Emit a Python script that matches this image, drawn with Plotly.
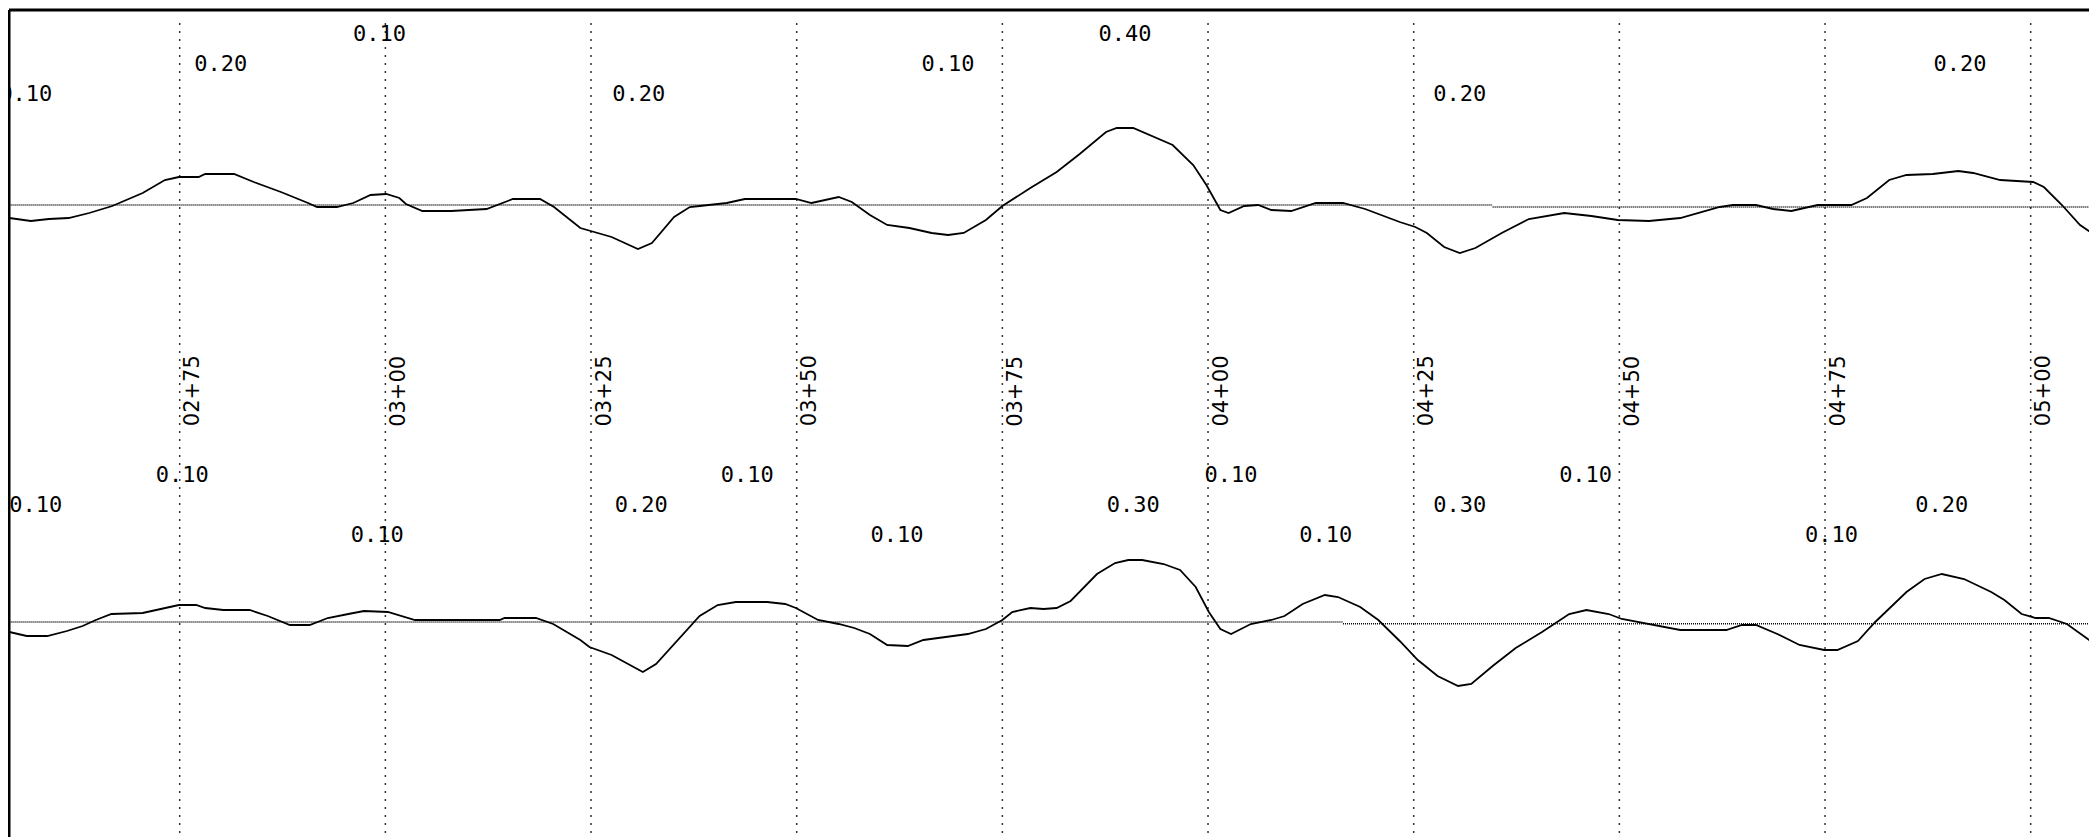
import plotly.graph_objects as go

# ---------------- data ----------------
# Station ticks (ft) and their labels
stations = [275, 300, 325, 350, 375, 400, 425, 450, 475, 500]
station_labels = ["02+75", "03+00", "03+25", "03+50", "03+75",
                  "04+00", "04+25", "04+50", "04+75", "05+00"]

# Profile 1 (top): station (ft) and elevation (in) relative to its reference line
st_top = [254.3, 256.9, 259.1, 261.5, 264.0, 266.8, 270.5, 273.2, 274.9, 277.3,
          278.1, 281.6, 284.0, 287.3, 290.6, 291.7, 294.1, 296.1, 298.2, 300.1,
          301.7, 302.5, 304.5, 308.0, 312.3, 315.5, 318.8, 320.5, 323.7, 325.4,
          327.5, 330.7, 332.4, 335.1, 337.0, 338.2, 341.5, 343.7, 349.9, 351.8,
          355.1, 356.7, 358.9, 361.0, 363.7, 366.4, 368.4, 370.3, 373.0, 375.0,
          378.4, 381.6, 384.4, 387.6, 388.9, 390.9, 395.7, 398.2, 399.8, 401.5,
          402.5, 404.4, 406.1, 407.7, 410.1, 413.1, 416.4, 419.1, 423.3, 425.2,
          426.6, 428.7, 430.6, 432.5, 435.7, 439.0, 443.3, 446.6, 449.8, 453.6,
          457.4, 462.2, 463.8, 466.6, 468.7, 470.9, 474.1, 478.2, 480.1, 482.8,
          484.9, 488.1, 491.2, 493.0, 496.3, 500.3, 501.6, 503.8, 506.0, 508.1]
el_top = [-0.13, -0.16, -0.14, -0.13, -0.08, -0.01, 0.12, 0.25, 0.28, 0.28,
          0.31, 0.31, 0.23, 0.13, 0.02, -0.02, -0.02, 0.02, 0.10, 0.11,
          0.07, 0.01, -0.06, -0.06, -0.04, 0.06, 0.06, -0.02, -0.23, -0.27,
          -0.32, -0.44, -0.38, -0.12, -0.02, -0.01, 0.02, 0.06, 0.06, 0.02,
          0.08, 0.03, -0.10, -0.20, -0.23, -0.28, -0.30, -0.28, -0.15, -0.01,
          0.17, 0.33, 0.51, 0.73, 0.77, 0.77, 0.60, 0.40, 0.20, -0.05,
          -0.08, -0.01, 0.00, -0.05, -0.06, 0.02, 0.02, -0.04, -0.17, -0.22,
          -0.28, -0.42, -0.48, -0.43, -0.28, -0.14, -0.08, -0.11, -0.15, -0.16,
          -0.13, -0.02, 0.00, 0.00, -0.04, -0.06, 0.00, 0.00, 0.07, 0.25,
          0.30, 0.31, 0.34, 0.32, 0.25, 0.23, 0.18, 0.00, -0.20, -0.32]

# Profile 2 (bottom)
st_bot = [254.3, 256.4, 258.9, 261.3, 263.2, 264.8, 266.7, 270.5, 272.7, 274.9,
          277.0, 278.1, 280.3, 283.5, 285.7, 288.4, 290.8, 293.0, 295.5, 297.4,
          300.3, 303.6, 313.9, 314.5, 318.3, 320.4, 323.7, 324.8, 327.5, 331.3,
          332.9, 335.6, 338.2, 340.4, 342.6, 346.4, 348.6, 349.9, 352.6, 355.1,
          357.0, 358.9, 361.0, 363.5, 365.4, 368.1, 370.8, 373.0, 375.0, 376.2,
          378.4, 380.0, 381.6, 383.3, 384.6, 386.5, 388.7, 390.3, 392.0, 394.6,
          396.6, 398.5, 400.1, 401.5, 402.8, 405.2, 407.7, 409.3, 411.5, 414.2,
          415.8, 418.5, 420.7, 423.3, 425.5, 427.9, 430.4, 432.0, 434.6, 437.4,
          440.6, 442.5, 443.9, 446.0, 448.7, 450.3, 453.0, 455.7, 457.4, 463.0,
          464.9, 466.6, 469.2, 471.9, 474.9, 476.5, 479.0, 481.1, 482.8, 484.9,
          487.1, 489.2, 491.9, 495.2, 496.8, 498.9, 500.6, 502.2, 504.4, 508.1]
el_bot = [-0.10, -0.14, -0.14, -0.09, -0.04, 0.02, 0.08, 0.09, 0.13, 0.17,
          0.17, 0.14, 0.12, 0.12, 0.06, -0.03, -0.03, 0.04, 0.08, 0.11,
          0.10, 0.02, 0.02, 0.04, 0.04, -0.02, -0.18, -0.25, -0.33, -0.50,
          -0.42, -0.17, 0.06, 0.17, 0.20, 0.20, 0.18, 0.14, 0.02, -0.02,
          -0.06, -0.12, -0.23, -0.24, -0.18, -0.15, -0.12, -0.07, 0.02, 0.10,
          0.14, 0.13, 0.14, 0.21, 0.32, 0.48, 0.59, 0.62, 0.62, 0.58,
          0.52, 0.35, 0.10, -0.07, -0.12, -0.02, 0.02, 0.06, 0.18, 0.27,
          0.25, 0.15, 0.02, -0.19, -0.38, -0.54, -0.64, -0.62, -0.44, -0.26,
          -0.10, 0.00, 0.08, 0.12, 0.08, 0.03, -0.01, -0.05, -0.08, -0.08,
          -0.03, -0.03, -0.12, -0.23, -0.28, -0.28, -0.19, 0.00, 0.13, 0.30,
          0.43, 0.48, 0.43, 0.30, 0.22, 0.08, 0.04, 0.04, -0.02, -0.24]

# Reference (datum) lines: break stations and levels (in)
ref_top_breaks = [254.2, 434.6, 508.1]
ref_top_levels = [0.0, -0.02]
ref_bot_breaks = [254.2, 416.4, 508.1]
ref_bot_levels = [0.0, -0.018]

# Value labels for each profile: station (ft), text, row (0 = highest)
lab_top_st = [256.3, 280.0, 299.3, 330.8, 368.4, 389.9, 430.6, 491.4]
lab_top_txt = ["0.10", "0.20", "0.10", "0.20", "0.10", "0.40", "0.20", "0.20"]
lab_top_row = [2, 1, 0, 2, 1, 0, 2, 1]

lab_bot_st = [257.5, 275.3, 299.0, 331.1, 344.0, 362.2, 390.9, 402.8, 414.3,
              430.6, 445.9, 475.8, 489.2]
lab_bot_txt = ["0.10", "0.10", "0.10", "0.20", "0.10", "0.10", "0.30", "0.10",
               "0.10", "0.30", "0.10", "0.10", "0.20"]
lab_bot_row = [1, 0, 2, 1, 0, 2, 1, 0, 2, 1, 0, 2, 1]

# ---------------- layout constants ----------------
# the page body has a default 8px margin; the figure is sized to fill the rest
PAGE_W, PAGE_H, BODY_MARGIN = 2097, 837, 8
W, H = PAGE_W - BODY_MARGIN, PAGE_H - BODY_MARGIN
X_RANGE = [254.25, 508.06]
Y_RANGE = [-6.32, 1.95]
OFF_TOP = 0.0
OFF_BOT = -4.17
ROW_TOP = [1.695, 1.395, 1.095]
ROW_BOT = [1.455, 1.155, 0.855]
GRID_TOP = 1.82
STATION_LABEL_Y = -1.86

fig = go.Figure()

# vertical station grid lines
for s in stations:
    fig.add_shape(type="line", xref="x", yref="y", x0=s, x1=s,
                  y0=GRID_TOP, y1=Y_RANGE[0], layer="below",
                  line=dict(color="#333333", width=1.5, dash="2px,6px"))

# reference lines
def ref_line(breaks, levels, off):
    xs, ys = [], []
    for i, lv in enumerate(levels):
        xs += [breaks[i], breaks[i + 1], None]
        ys += [lv + off, lv + off, None]
    return go.Scatter(x=xs, y=ys, mode="lines", hoverinfo="skip",
                      line=dict(color="black", width=1.4, dash="1px,1px"),
                      showlegend=False)

fig.add_trace(ref_line(ref_top_breaks, ref_top_levels, OFF_TOP))
fig.add_trace(ref_line(ref_bot_breaks, ref_bot_levels, OFF_BOT))

# profiles
fig.add_trace(go.Scatter(x=st_top, y=[e + OFF_TOP for e in el_top], mode="lines",
                         line=dict(color="black", width=1.8), showlegend=False))
fig.add_trace(go.Scatter(x=st_bot, y=[e + OFF_BOT for e in el_bot], mode="lines",
                         line=dict(color="black", width=1.8), showlegend=False))

# value labels
vfont = dict(family="DejaVu Sans Mono", size=22, color="black")
fig.add_trace(go.Scatter(x=lab_top_st, y=[ROW_TOP[r] + OFF_TOP for r in lab_top_row],
                         text=lab_top_txt, mode="text", textposition="middle center",
                         textfont=vfont, cliponaxis=True, showlegend=False))
fig.add_trace(go.Scatter(x=lab_bot_st, y=[ROW_BOT[r] + OFF_BOT for r in lab_bot_row],
                         text=lab_bot_txt, mode="text", textposition="middle center",
                         textfont=vfont, cliponaxis=True, showlegend=False))

# station labels (rotated)
for s, t in zip(stations, station_labels):
    fig.add_annotation(x=s, y=STATION_LABEL_Y, xref="x", yref="y", text=t,
                       textangle=-90, showarrow=False, xshift=12.5,
                       font=dict(family="DejaVu Sans", size=21, color="black"))

# frame (left and top)
fig.add_shape(type="line", xref="paper", yref="paper", x0=0, x1=0, y0=0, y1=1,
              line=dict(color="black", width=3))
fig.add_shape(type="line", xref="paper", yref="paper", x0=0, x1=1, y0=1, y1=1,
              line=dict(color="black", width=3))

fig.update_layout(
    width=W, height=H, autosize=False,
    margin=dict(l=1, r=0, t=2, b=0, pad=0),
    paper_bgcolor="white", plot_bgcolor="white",
    showlegend=False, hovermode=False,
    xaxis=dict(range=X_RANGE, visible=False, fixedrange=True),
    yaxis=dict(range=Y_RANGE, visible=False, fixedrange=True),
)

fig.write_html("out.html", config={"displayModeBar": False})
